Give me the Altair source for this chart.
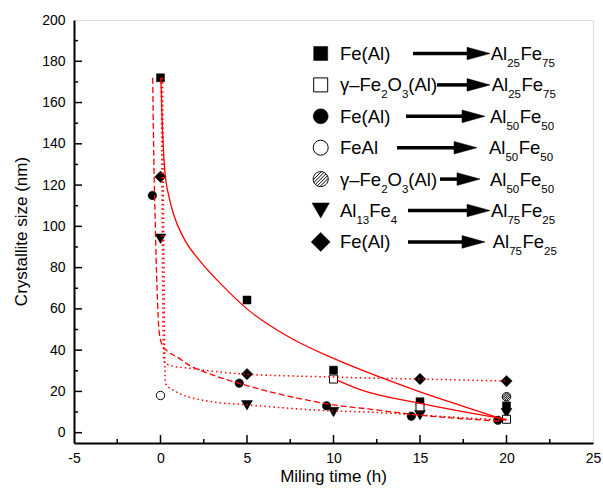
import altair as alt
import pandas as pd

# ---------------- data ----------------
# markers
sq_x = [0, 5, 10, 15, 20]            # Fe(Al) -> Al25Fe75 (filled square)
sq_y = [172, 64.3, 30.3, 15.0, 13.0]
osq_x = [10, 15, 20]                 # g-Fe2O3(Al) -> Al25Fe75 (open square)
osq_y = [26.0, 12.5, 6.5]
ci_x = [-0.47, 4.55, 9.6, 14.5, 19.5]  # Fe(Al) -> Al50Fe50 (filled circle)
ci_y = [115.0, 24.0, 13.0, 8.0, 6.0]
oci_x = [0]                          # FeAl -> Al50Fe50 (open circle)
oci_y = [18.0]
hci_x = [20]                         # g-Fe2O3(Al) -> Al50Fe50 (hatched circle)
hci_y = [17.4]
tri_x = [0, 5, 10, 15, 20]           # Al13Fe4 -> Al75Fe25 (triangle down)
tri_y = [94.0, 13.3, 10.0, 8.5, 9.5]
dia_x = [0, 5, 15, 20]               # Fe(Al) -> Al75Fe25 (diamond)
dia_y = [124.0, 28.4, 26.0, 25.0]

# red fitted curves
fitA_x = [0.02, 0.1, 0.25, 0.5, 0.75, 1.3, 2.3, 3.5, 5, 7.5, 10, 12.5, 15, 17.5, 20]
fitA_y = [172, 150, 127, 114, 106, 95, 83, 72, 60, 46, 36, 27.5, 19.8, 12.8, 6]
fitB_x = [10.2, 11.5, 15, 20]
fitB_y = [25.5, 21, 14.2, 6.5]
fitC_x = [-0.45, -0.4, -0.3, -0.2, -0.08, 0.1, 0.4, 0.94, 1.7, 2.67, 4.6, 7.5, 10, 12, 15, 19.6]
fitC_y = [172, 140, 100, 70, 49, 42.5, 39.5, 36.8, 32.5, 29, 23.8, 17.5, 13.5, 11.5, 8.5, 5.6]
fitD_x = [0.05, 0.1, 0.15, 0.2, 0.6, 1.7, 3, 5, 7.5, 10, 12, 15, 20]
fitD_y = [172, 100, 50, 34.4, 32.5, 31.2, 29.8, 28.3, 27.5, 27, 26.5, 26, 25]
fitE_x = [0.12, 0.18, 0.24, 0.28, 0.74, 2.67, 5, 7.5, 10, 12, 15, 20]
fitE_y = [172, 100, 40, 23.9, 20.6, 15.4, 13.5, 11.8, 10.5, 10, 8.5, 6]

# axes
x_title = "Miling time (h)"
y_title = "Crystallite size (nm)"
x_label_vals = [-5, 0, 5, 10, 15, 20, 25]
y_label_vals = [0, 20, 40, 60, 80, 100, 120, 140, 160, 180, 200]
x_major_ticks = [0, 5, 10, 15, 20]
x_minor_ticks = [-2.5, 2.5, 7.5, 12.5, 17.5, 22.5]
y_major_ticks = [0, 20, 40, 60, 80, 100, 120, 140, 160, 180]
y_minor_ticks = [10, 30, 50, 70, 90, 110, 130, 150, 170, 190]

# legend texts
leg_left = [
    [("Fe(Al)", 0)],
    [("γ–Fe", 0), ("2", 1), ("O", 0), ("3", 1), ("(Al)", 0)],
    [("Fe(Al)", 0)],
    [("FeAl", 0)],
    [("γ–Fe", 0), ("2", 1), ("O", 0), ("3", 1), ("(Al)", 0)],
    [("Al", 0), ("13", 1), ("Fe", 0), ("4", 1)],
    [("Fe(Al)", 0)],
]
leg_right = [("25", "75"), ("25", "75"), ("50", "50"), ("50", "50"),
             ("50", "50"), ("75", "25"), ("75", "25")]

# ---------------- layout ----------------
W, H = 519, 423
PL, PT = 74, 20
FONT = "Liberation Sans"
RED = "#ff0000"

xsc = alt.Scale(domain=[-5, 25], nice=False, zero=False)
ysc = alt.Scale(domain=[-5, 200], nice=False, zero=False)

x_axis = alt.Axis(values=x_label_vals, title=None, ticks=False, tickSize=0,
                  grid=False, domainColor="black", domainWidth=2, labelFontSize=14,
                  labelColor="black", labelPadding=8, labelFlush=False, labelOverlap=False,
                  labelExpr="'' + datum.value", labelFont=FONT)
y_axis = alt.Axis(values=y_label_vals, title=None, ticks=False, tickSize=0,
                  grid=False, domainColor="black", domainWidth=2, labelFontSize=14,
                  labelColor="black", labelPadding=9, labelFlush=False, labelOverlap=False,
                  labelExpr="'' + datum.value", labelFont=FONT)

X = alt.X("x:Q", scale=xsc, axis=x_axis)
Y = alt.Y("y:Q", scale=ysc, axis=y_axis)


def df(xs, ys):
    return pd.DataFrame({"x": xs, "y": ys})


HATCH = ("M -1 0 A 1 1 0 1 1 1 0 A 1 1 0 1 1 -1 0 Z "
         "M -0.707 0.707 L 0.707 -0.707 "
         "M -0.445 0.895 L 0.895 -0.445 "
         "M -0.895 0.445 L 0.445 -0.895 "
         "M -0.0955 0.9955 L 0.9955 -0.0955 "
         "M -0.9955 0.0955 L 0.0955 -0.9955")
ARROW = "M -1 -0.55 L 1 0 L -1 0.55 Z"


def filled(xs, ys, shape, size):
    return alt.Chart(df(xs, ys)).mark_point(shape=shape, filled=True, fill="black",
                                            stroke="black", strokeWidth=0.5, size=size,
                                            opacity=1).encode(x=X, y=Y)


def hollow(xs, ys, shape, size):
    return alt.Chart(df(xs, ys)).mark_point(shape=shape, filled=True, fill="white",
                                            stroke="black", strokeWidth=1, size=size,
                                            opacity=1).encode(x=X, y=Y)


def curve(xs, ys, dash=None, width=1.3):
    kw = dict(color=RED, strokeWidth=width, interpolate="monotone")
    if dash:
        kw["strokeDash"] = dash
    return alt.Chart(df(xs, ys)).mark_line(**kw).encode(x=X, y=Y)


markers = [
    filled(tri_x, tri_y, "triangle-down", 120),
    filled(dia_x, dia_y, "diamond", 130),
    filled(sq_x, sq_y, "square", 64),
    hollow(osq_x, osq_y, "square", 64),
    filled(ci_x, ci_y, "circle", 72),
    hollow(oci_x, oci_y, "circle", 70),
    hollow(hci_x, hci_y, HATCH, 72),
]
curves = [
    curve(fitA_x, fitA_y),
    curve(fitB_x, fitB_y),
    curve(fitC_x, fitC_y, dash=[6, 3]),
    curve(fitD_x, fitD_y, dash=[1.5, 3], width=1.5),
    curve(fitE_x, fitE_y, dash=[1.5, 3], width=1.5),
]

# inward ticks
tick_layers = [
    alt.Chart(pd.DataFrame({"x": x_major_ticks})).mark_rule(color="black", strokeWidth=1.5)
    .encode(x=X, y=alt.value(H), y2=alt.value(H - 8)),
    alt.Chart(pd.DataFrame({"x": x_minor_ticks})).mark_rule(color="black", strokeWidth=1.5)
    .encode(x=X, y=alt.value(H), y2=alt.value(H - 4)),
    alt.Chart(pd.DataFrame({"y": y_major_ticks})).mark_rule(color="black", strokeWidth=1.5)
    .encode(y=Y, x=alt.value(0), x2=alt.value(8)),
    alt.Chart(pd.DataFrame({"y": y_minor_ticks})).mark_rule(color="black", strokeWidth=1.5)
    .encode(y=Y, x=alt.value(0), x2=alt.value(4)),
]

main = alt.layer(*tick_layers, *markers, *curves)

# ---------------- legend + axis titles (pixel layout) ----------------
CW = {"A": .667, "l": .222, "F": .611, "e": .556, "(": .333, ")": .333, "O": .778,
      "γ": .5, "–": .556}


def tw(s, fs):
    return sum(CW.get(c, .556) for c in s) * fs


MAIN_FS, SUB_FS = 18.5, 11.5
row_y = [53.5 + 31.4 * i - PT for i in range(7)]
sym_x = 320.7 - PL
left_x0 = 340 - PL
right_x0 = [490.7, 491.7, 490, 489, 490, 491, 492.7]
arrows = [(413, 490), (437, 490), (406, 485), (397, 477), (440, 480), (408, 490), (408, 485)]

texts = []
for i, pieces in enumerate(leg_left):
    xx = left_x0
    for s, sub in pieces:
        fs = SUB_FS if sub else MAIN_FS
        texts.append({"lx": xx, "ly": row_y[i] + (13.5 if sub else 6.5), "t": s, "fs": fs})
        xx += tw(s, fs)
for i, (a, b) in enumerate(leg_right):
    xx = right_x0[i] - PL
    for s, sub in [("Al", 0), (a, 1), ("Fe", 0), (b, 1)]:
        fs = SUB_FS if sub else MAIN_FS
        texts.append({"lx": xx, "ly": row_y[i] + (13.5 if sub else 6.5), "t": s, "fs": fs})
        xx += tw(s, fs) + (0.5 if sub else 0)

HEAD = 23
arr_df = pd.DataFrame({
    "lx": [a - PL for a, b in arrows],
    "lx2": [b - PL - HEAD + 2 for a, b in arrows],
    "hx": [b - PL - HEAD / 2 for a, b in arrows],
    "ly": row_y,
})

LXS = alt.Scale(domain=[0, W], nice=False, zero=False)
LYS = alt.Scale(domain=[0, H], nice=False, zero=False, reverse=True)
LX = alt.X("lx:Q", scale=LXS, axis=None)
LY = alt.Y("ly:Q", scale=LYS, axis=None)

leg_sym = [
    ("square", "black", 196), ("square", "white", 196), ("circle", "black", 225),
    ("circle", "white", 225), (HATCH, "white", 225), ("triangle-down", "black", 300),
    ("diamond", "black", 360),
]
sym_layers = []
for i, (shape, fill, size) in enumerate(leg_sym):
    sym_layers.append(
        alt.Chart(pd.DataFrame({"lx": [sym_x], "ly": [row_y[i]]}))
        .mark_point(shape=shape, filled=True, fill=fill, stroke="black",
                    strokeWidth=1 if fill == "white" else 0.5, size=size, opacity=1)
        .encode(x=LX, y=LY)
    )

xt_df = pd.DataFrame({"lx": [W / 2], "ly": [H + 39], "t": [x_title]})
yt_df = pd.DataFrame({"lx": [-52], "ly": [H / 2], "t": [y_title]})

legend = alt.layer(
    *sym_layers,
    alt.Chart(arr_df).mark_rule(color="black", strokeWidth=3.5)
    .encode(x=LX, x2="lx2:Q", y=LY),
    alt.Chart(arr_df).mark_point(shape=ARROW, filled=True, fill="black", stroke="black",
                                 strokeWidth=0.5, size=HEAD * HEAD, opacity=1)
    .encode(x=alt.X("hx:Q", scale=LXS, axis=None), y=LY),
    alt.Chart(pd.DataFrame(texts)).mark_text(align="left", baseline="alphabetic",
                                             color="black", font=FONT)
    .encode(x=LX, y=LY, text="t:N", size=alt.Size("fs:Q", scale=None, legend=None)),
    alt.Chart(xt_df).mark_text(align="center", baseline="alphabetic", color="black",
                               font=FONT, fontSize=17, fontWeight="normal")
    .encode(x=LX, y=LY, text="t:N"),
    alt.Chart(yt_df).mark_text(align="center", baseline="middle", color="black",
                               font=FONT, fontSize=17, fontWeight="normal", angle=270)
    .encode(x=LX, y=LY, text="t:N"),
)

chart = (
    alt.layer(main, legend)
    .resolve_scale(x="independent", y="independent")
    .properties(width=W, height=H,
                padding={"left": PL, "top": PT, "right": 603 - PL - W, "bottom": 489 - PT - H},
                autosize=alt.AutoSizeParams(type="none"))
    .configure_view(stroke="black", strokeWidth=1.5)
    .configure(font=FONT, background="white")
)

chart.save("out.html", embed_options={"renderer": "svg", "actions": False})
